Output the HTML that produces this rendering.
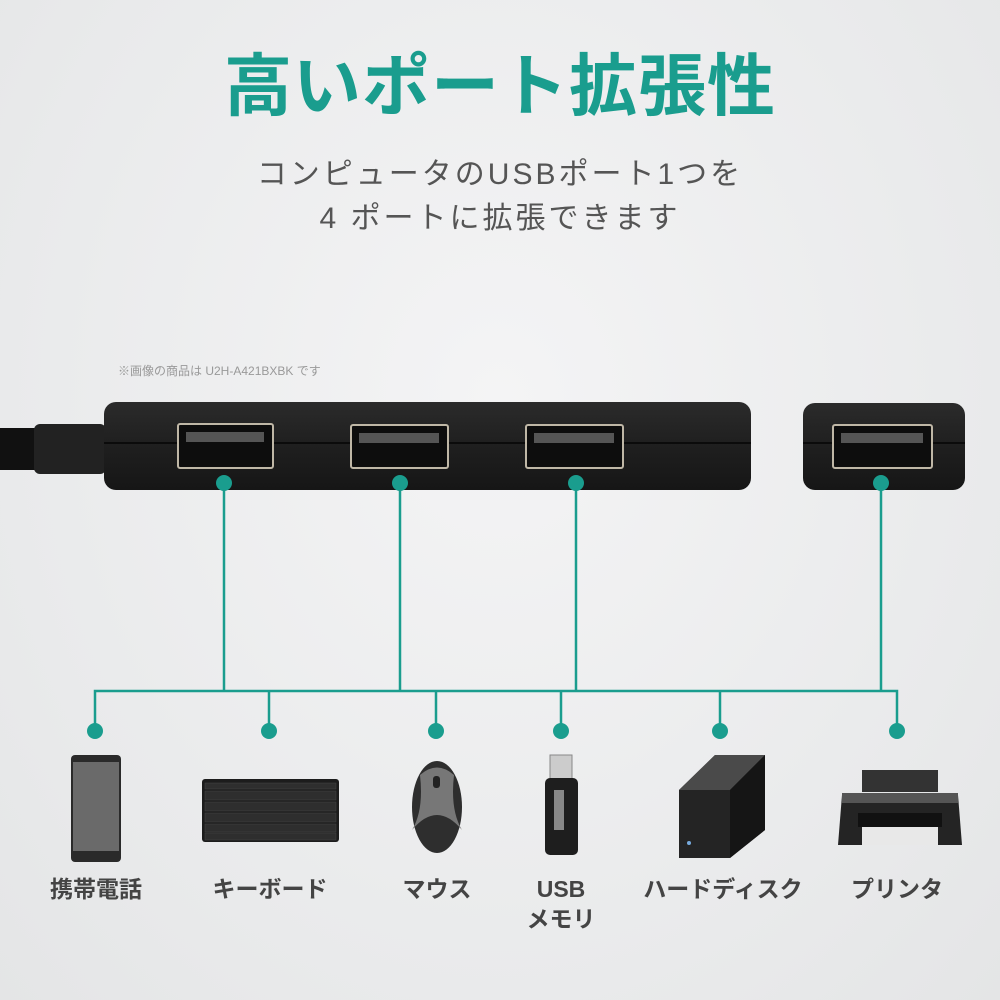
<!DOCTYPE html>
<html><head><meta charset="utf-8"><style>
body{margin:0;width:1000px;height:1000px;overflow:hidden;background:radial-gradient(ellipse at 50% 40%,#f4f4f5 0%,#e9eaeb 70%,#e4e5e6 100%);font-family:"Liberation Sans","Noto Sans CJK JP",sans-serif;position:relative}
.t{position:absolute;left:0;width:1000px;text-align:center}
.lbl{position:absolute;width:200px;text-align:center;font-weight:bold;font-size:23px;color:#444;line-height:30px}
</style></head><body>
<div class="t" style="top:42px;font-size:68px;font-weight:bold;color:#1a9d8e;letter-spacing:1px;line-height:90px">高いポート拡張性</div>
<div class="t" style="top:153px;font-size:30px;color:#555;letter-spacing:3px;line-height:44px">コンピュータのUSBポート1つを<br>4 ポートに拡張できます</div>
<div style="position:absolute;left:118px;top:362px;font-size:12px;color:#999">※画像の商品は U2H-A421BXBK です</div>
<svg width="1000" height="1000" style="position:absolute;left:0;top:0">
<defs>
<linearGradient id="hb" x1="0" y1="0" x2="0" y2="1"><stop offset="0" stop-color="#2b2b2b"/><stop offset="0.5" stop-color="#1f1f1f"/><stop offset="1" stop-color="#161616"/></linearGradient>
</defs>
<rect x="0" y="428" width="40" height="42" fill="#111"/>
<rect x="34" y="424" width="72" height="50" rx="6" fill="#222"/>
<rect x="104" y="402" width="647" height="88" rx="12" fill="url(#hb)"/>
<rect x="803" y="403" width="162" height="87" rx="12" fill="url(#hb)"/>
<line x1="104" y1="443" x2="751" y2="443" stroke="#0b0b0b" stroke-width="2"/>
<line x1="803" y1="443" x2="965" y2="443" stroke="#0b0b0b" stroke-width="2"/>
<g fill="#0d0d0d" stroke="#bfb7a6" stroke-width="2">
<rect x="178" y="424" width="95" height="44" rx="2"/>
<rect x="351" y="425" width="97" height="43" rx="2"/>
<rect x="526" y="425" width="97" height="43" rx="2"/>
<rect x="833" y="425" width="99" height="43" rx="2"/>
</g>
<g fill="#555"><rect x="186" y="432" width="78" height="10"/><rect x="359" y="433" width="80" height="10"/><rect x="534" y="433" width="80" height="10"/><rect x="841" y="433" width="82" height="10"/></g>
<g stroke="#1a9d8e" stroke-width="2.5" fill="none">
<path d="M224 483V691M400 483V691M576 483V691M881 483V691M95 731V691H897V731M269 691V731M436 691V731M561 691V731M720 691V731"/>
</g>
<g fill="#1a9d8e">
<circle cx="224" cy="483" r="8"/><circle cx="400" cy="483" r="8"/><circle cx="576" cy="483" r="8"/><circle cx="881" cy="483" r="8"/>
<circle cx="95" cy="731" r="8"/><circle cx="269" cy="731" r="8"/><circle cx="436" cy="731" r="8"/><circle cx="561" cy="731" r="8"/><circle cx="720" cy="731" r="8"/><circle cx="897" cy="731" r="8"/>
</g>
<rect x="71" y="755" width="50" height="107" rx="4" fill="#2a2a2a"/>
<rect x="73" y="762" width="46" height="89" fill="#6a6a6a"/>
<rect x="202" y="779" width="137" height="63" rx="3" fill="#1c1c1c"/>
<g fill="#2e2e2e" stroke="#444" stroke-width="0.5">
<rect x="205" y="783" width="131" height="6"/><rect x="205" y="791" width="131" height="9"/><rect x="205" y="802" width="131" height="9"/><rect x="205" y="813" width="131" height="9"/><rect x="205" y="824" width="131" height="8"/><rect x="205" y="833" width="131" height="7"/>
</g>
<ellipse cx="437" cy="807" rx="25" ry="46" fill="#2e2e2e"/>
<path d="M420 775 Q437 760 454 775 Q450 810 462 830 Q437 800 412 830 Q424 810 420 775Z" fill="#777"/>
<rect x="433" y="776" width="7" height="12" rx="3" fill="#222"/>
<rect x="550" y="755" width="22" height="25" fill="#ccc" stroke="#888"/>
<rect x="545" y="778" width="33" height="77" rx="5" fill="#1e1e1e"/>
<rect x="554" y="790" width="10" height="40" fill="#888"/>
<path d="M679 790 L715 755 H765 V830 L730 858 H679Z" fill="#242424"/>
<path d="M679 790 L715 755 H765 L730 790Z" fill="#4a4a4a"/>
<path d="M730 790 L765 755 V830 L730 858Z" fill="#151515"/>
<circle cx="689" cy="843" r="2" fill="#7ad"/>
<rect x="862" y="770" width="76" height="22" fill="#333"/>
<path d="M842 795 H958 L962 845 H838Z" fill="#242424"/>
<rect x="842" y="793" width="116" height="10" fill="#555"/>
<rect x="858" y="813" width="84" height="14" fill="#111"/>
<rect x="862" y="827" width="76" height="18" fill="#e8e8e8"/>
</svg>
<div class="lbl" style="left:-4px;top:874px">携帯電話</div>
<div class="lbl" style="left:170px;top:874px">キーボード</div>
<div class="lbl" style="left:337px;top:874px">マウス</div>
<div class="lbl" style="left:461px;top:874px">USB<br>メモリ</div>
<div class="lbl" style="left:623px;top:874px">ハードディスク</div>
<div class="lbl" style="left:797px;top:874px">プリンタ</div>
</body></html>
